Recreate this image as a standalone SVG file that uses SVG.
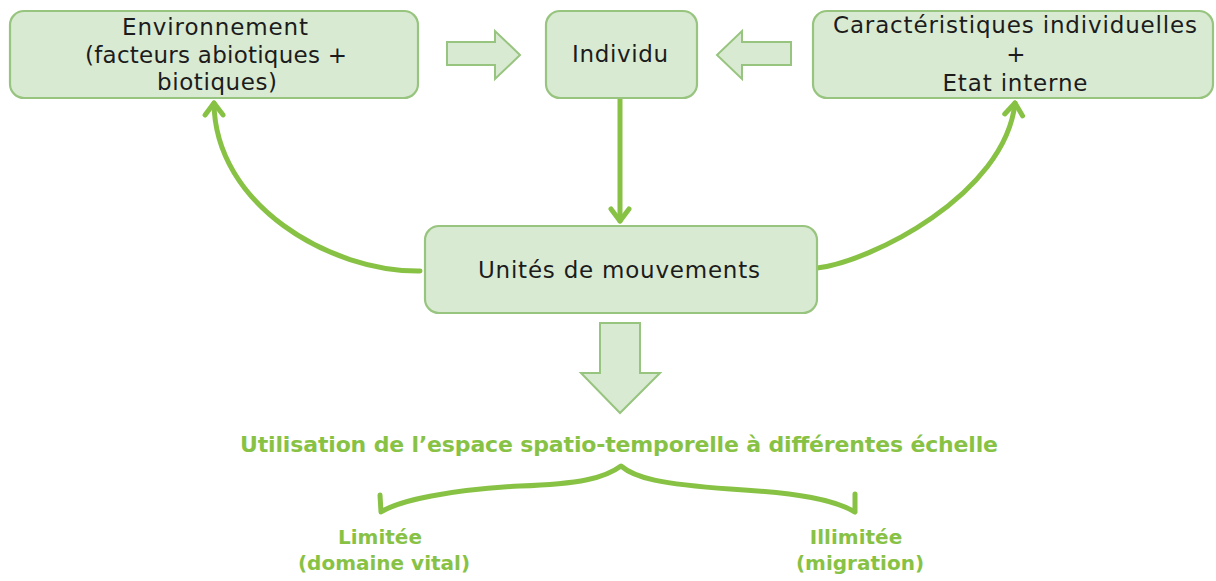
<svg xmlns="http://www.w3.org/2000/svg" width="1216" height="581" viewBox="0 0 1216 581">
<style>
.box{fill:#d9ead3;stroke:#97c47e;stroke-width:2.2}
.blk{fill:#d9ead3;stroke:#97c47e;stroke-width:2}
.t{font-family:"DejaVu Sans","Liberation Sans",sans-serif;font-size:23px;fill:#1c1c1c;text-anchor:middle}
.g{font-family:"DejaVu Sans","Liberation Sans",sans-serif;font-size:22px;font-weight:bold;fill:#88c245;text-anchor:middle}
.l{font-size:20px}
.c{fill:none;stroke:#88c245;stroke-width:5;stroke-linecap:round}
</style>
<defs>
<marker id="chev" markerUnits="userSpaceOnUse" viewBox="-16 -14 20 28" refX="0" refY="0" markerWidth="20" markerHeight="28" orient="auto">
<path d="M-12,-9 L0,0 L-12,9" fill="none" stroke="#88c245" stroke-width="5" stroke-linecap="round" stroke-linejoin="round"/>
</marker>
</defs>
<rect width="1216" height="581" fill="#ffffff"/>
<g id="connectors">
<path class="c" d="M420,271 C330,272 215,205 214,103" marker-end="url(#chev)"/>
<path class="c" d="M817,268 C870,262 1005,195 1015,103" marker-end="url(#chev)"/>
<path class="c" d="M620,99 L620,221" marker-end="url(#chev)"/>
<polygon class="blk" points="447,42 495,42 495,31 520,55 495,79 495,65 447,65"/>
<polygon class="blk" points="791,42 742,42 742,31 717,55 742,79 742,65 791,65"/>
<polygon class="blk" points="600,323 640,323 640,373 660,373 620,413 581,373 600,373"/>
<path class="c" stroke-linejoin="round" d="M380,495 L381,512 C400,500 450,490 520,486 C580,484 605,478 621,466 C635,478 660,484 730,489 C800,493 835,500 855,512 L855,494"/>
</g>
<g id="environnement">
<rect class="box" x="10" y="11" width="408" height="87" rx="14"/>
<text class="t" x="215" y="35" textLength="186">Environnement</text>
<text class="t" x="216" y="63" textLength="262">(facteurs abiotiques +</text>
<text class="t" x="217" y="90" textLength="120">biotiques)</text>
</g>
<g id="individu">
<rect class="box" x="546" y="11" width="151" height="87" rx="14"/>
<text class="t" x="620" y="62" textLength="96">Individu</text>
</g>
<g id="caracteristiques">
<rect class="box" x="813" y="11" width="400" height="87" rx="14"/>
<text class="t" x="1015" y="33" textLength="364">Caractéristiques individuelles</text>
<text class="t" x="1016" y="62">+</text>
<text class="t" x="1015" y="91" textLength="145">Etat interne</text>
</g>
<g id="unites">
<rect class="box" x="425" y="226" width="392" height="87" rx="14"/>
<text class="t" x="619" y="278" textLength="282">Unités de mouvements</text>
</g>
<g id="utilisation">
<text class="g" x="619" y="452" textLength="758">Utilisation de l’espace spatio-temporelle à différentes échelle</text>
</g>
<g id="limitee">
<text class="g l" x="380" y="544">Limitée</text>
<text class="g l" x="384" y="570">(domaine vital)</text>
</g>
<g id="illimitee">
<text class="g l" x="856" y="544">Illimitée</text>
<text class="g l" x="860" y="570">(migration)</text>
</g>
</svg>
